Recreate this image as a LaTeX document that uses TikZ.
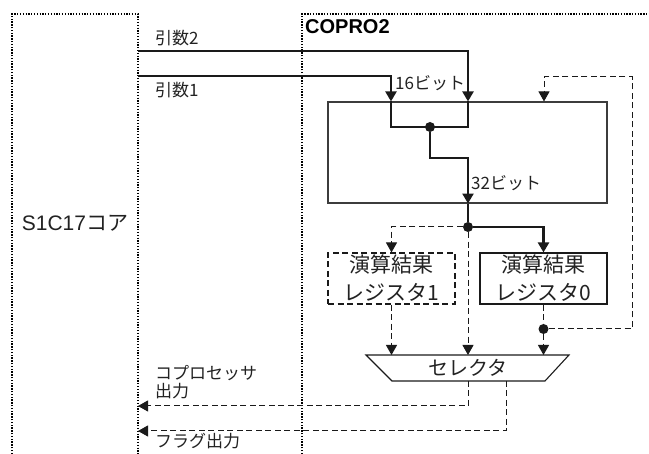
\documentclass[tikz,border=0pt]{standalone}
\usepackage{fontspec}
\setmainfont{Liberation Sans}
\newfontfamily\jp{Noto Sans CJK JP}
\usetikzlibrary{arrows.meta}
\definecolor{ink}{HTML}{1A1A1A}
\definecolor{txt}{HTML}{222222}
\begin{document}
\begin{tikzpicture}[x=1pt,y=-1pt,
  every node/.style={text=txt, inner sep=0pt},
  small/.style={font=\fontsize{17}{18}\selectfont\jp},
  big/.style={font=\fontsize{21}{28}\selectfont\jp},
  bus/.style={draw=ink, line width=2.2pt},
  sig/.style={draw=ink, line width=1pt, dash pattern=on 6pt off 3.5pt},
  tip/.style={-{Triangle[width=11pt,length=10pt]}},
  regbox/.style={draw=ink, line width=1.1pt, minimum width=127pt, minimum height=51pt, align=center, big},
  jdot/.style={circle, fill=ink, minimum size=10pt, inner sep=0pt}]
\useasboundingbox (0,0) rectangle (649,454);
% outer dotted frames
\draw[black, line width=1.5pt, dash pattern=on 1.3pt off 1.5pt] (12,454) -- (12,14) -- (138,14) -- (138,454);
\draw[black, line width=2.3pt, dash pattern=on 1.3pt off 1.5pt] (302,454) -- (302,14) -- (649,14);
\node[font=\fontsize{20}{24}\selectfont\bfseries, anchor=west, text=black] (coprot) at (305,27) {COPRO2};
\node[font=\fontsize{21}{24}\selectfont] (core) at (75,223) {S1C17{\jp コア}};
% main block
\node[draw=ink!85, line width=1.1pt, minimum width=279pt, minimum height=101pt] (alu) at (467.5,152.5) {};
\node[regbox, dash pattern=on 6pt off 3.5pt] (reg1) at (391.5,278.5) {演算結果\\レジスタ1};
\node[regbox] (reg0) at (543.5,278.5) {演算結果\\レジスタ0};
% selector
\draw[ink, line width=1.1pt] (366,355) -- (569,355) -- (545,381) -- (392,381) -- cycle;
\node[font=\fontsize{20}{22}\selectfont\jp] (sel) at (468,368) {セレクタ};
\coordinate (selT) at (468,355);
\coordinate (selB) at (468,381);
% coordinates
\coordinate (a2s) at (138,51);
\coordinate (a1s) at (138,76);
\coordinate (xA) at (391,0);
\coordinate (xB) at (468,0);
\coordinate (xC) at (544,0);
\node[jdot] (jd) at (430,127) {};
\node[jdot] (od) at (468,227) {};
\node[jdot] (fb) at (reg0.south |- 0,329) {};
% labels
\node[small, anchor=west] (l2) at (155,38) {引数2};
\node[small, anchor=west] (l1) at (155,90) {引数1};
\node[small, anchor=west] (b16) at (395,83) {16ビット};
\node[small, anchor=west] (b32) at (471,183) {32ビット};
\node[small, anchor=north west, align=left] (lco) at (155,365) {コプロセッサ\\出力};
\node[small, anchor=west] (lfl) at (155,441) {フラグ出力};
% thick buses
\draw[bus, tip] (a2s) -| (alu.north -| xB);
\draw[bus, tip] (a1s) -| (alu.north -| xA);
\draw[bus] (alu.north -| xB) -- (xB |- jd) -- (xA |- jd) -- (alu.north -| xA);
\draw[bus, tip] (jd) -- (430,158) -- (468,158) -- (alu.south -| xB);
\draw[bus] (alu.south -| xB) -- (od);
\draw[bus, tip] (od) -| (reg0.north);
% dashed signals
\draw[sig, tip] (od) -| (reg1.north);
\draw[sig, tip] (od) -- (selT);
\draw[sig, tip] (reg1.south) -- (reg1.south |- selT);
\draw[sig] (reg0.south) -- (fb);
\draw[sig, tip] (fb) -- (fb |- selT);
\draw[sig, tip] (fb) -- (632,329) -- (632,77) -- (xC |- 0,77) -- (alu.north -| xC);
\draw[sig, tip] (selB) -- (468,406) -- (138,406);
\draw[sig, tip] (506,381) -- (506,431) -- (138,431);
\end{tikzpicture}
\end{document}
